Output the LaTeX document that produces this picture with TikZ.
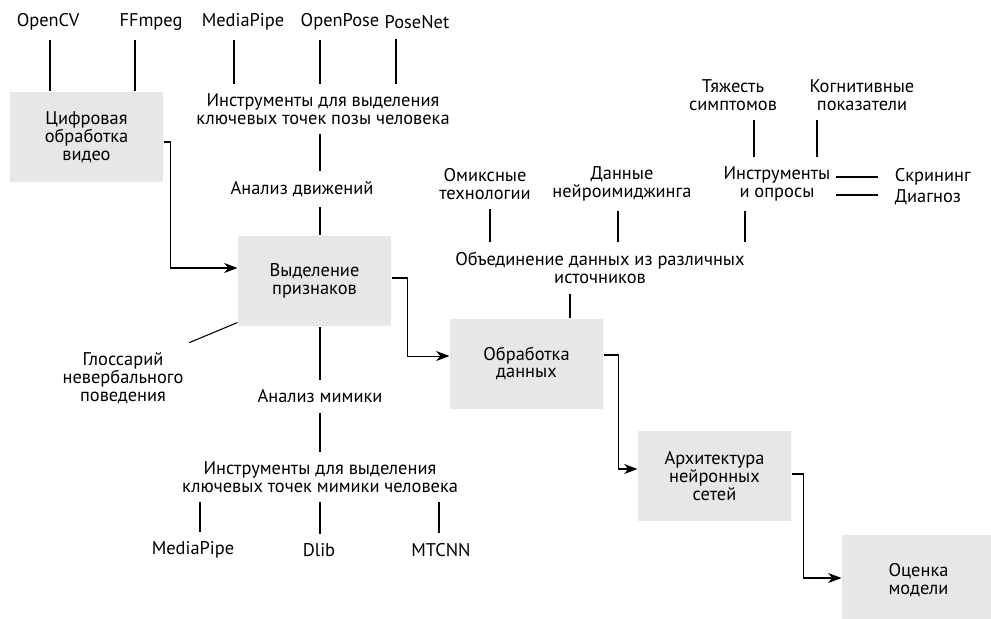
\documentclass[tikz,border=0pt]{standalone}
\usepackage{fontspec}
\setmainfont{PT Sans}
\usetikzlibrary{arrows.meta}
\definecolor{boxgray}{RGB}{230,231,232}

\begin{document}
\begin{tikzpicture}[x=0.75pt, y=-0.75pt, line width=0.8pt,
        every node/.style={align=center, inner xsep=4pt, inner ysep=7pt, font=\fontsize{13.8}{13.4}\selectfont},
        box/.style={fill=boxgray, inner sep=0pt, minimum width=114.75pt, minimum height=67.5pt},
        arr/.style={-{Stealth[length=10pt, width=7.5pt, inset=3pt]}}]
    \useasboundingbox (0,0) rectangle (991,618);

    \node[box] (video) at (86.5,137) {Цифровая \\ обработка \\ видео};
    \node[box] (feat) at (314.5,281) {Выделение \\ признаков};
    \node[box] (proc) at (526.5,363.5) {Обработка \\ данных};
    \node[box] (arch) at (714.5,476) {Архитектура \\ нейронных \\ сетей};
    \node[box] (eval) at (918.5,580) {Оценка \\ модели};

    \node (opencv) at (48,22) {OpenCV};
    \node (ffmpeg) at (151,22) {FFmpeg};
    \node (mpipe) at (243,22) {MediaPipe};
    \node (openpose) at (340,22) {OpenPose};
    \node (posenet) at (417,22) {PoseNet};
    \node (posetools) at (323,109) {Инструменты для выделения \\ ключевых точек позы человека};
    \node (motion) at (302,189) {Анализ движений};
    \node (gloss) at (123,378) {Глоссарий \\ невербального \\ поведения};
    \node (mimic) at (320,396) {Анализ мимики};
    \node (facetools) at (320,477) {Инструменты для выделения \\ ключевых точек мимики человека};
    \node (mpipeface) at (193,550) {MediaPipe};
    \node (dlib) at (319,550) {Dlib};
    \node (mtcnn) at (441,550) {MTCNN};

    \node (omics) at (485,184) {Омиксные \\ технологии};
    \node (neuro) at (622,184) {Данные \\ нейроимиджинга};
    \node (survey) at (777,184) {Инструменты \\ и опросы};
    \node (fusion) at (600,268) {Объединение данных из различных \\ источников};
    \node (severity) at (733,95) {Тяжесть \\ симптомов};
    \node (cogn) at (862,95) {Когнитивные \\ показатели};
    \node[anchor=west] (screening) at (889,177) {Скрининг};
    \node[anchor=west] (diagnosis) at (889,197) {Диагноз};

    \foreach \n/\dx in {opencv/2, ffmpeg/-16}
        \draw (\n.south) ++(\dx,0) coordinate (t) -- (t |- video.north);
    \foreach \n/\dx in {mpipe/-9, openpose/-20, posenet/-21}
        \draw (\n.south) ++(\dx,0) coordinate (t) -- (t |- posetools.north);
    \draw (posetools.south) ++(-3,0) coordinate (t) -- (t |- motion.north);
    \draw (motion.south) ++(18,0) coordinate (t) -- (t |- feat.north);
    \draw (feat.south) ++(5.5,0) coordinate (t) -- (t |- mimic.north);
    \draw (mimic.south) -- (facetools.north);
    \foreach \n/\dx in {mpipeface/7, dlib/1, mtcnn/-2}
        \draw (\n.north) ++(\dx,0) coordinate (t) -- (t |- facetools.south);
    \draw ([yshift=3pt]feat.south west) -- (gloss.north east);

    \foreach \n/\dx in {omics/5, neuro/-4, survey/-32}
        \draw (\n.south) ++(\dx,0) coordinate (t) -- (t |- fusion.north);
    \draw (fusion.south) ++(-30,0) coordinate (t) -- (t |- proc.north);
    \foreach \n/\dx in {severity/21, cogn/-45}
        \draw (\n.south) ++(\dx,0) coordinate (t) -- (t |- survey.north);
    \draw[shorten <=8pt] (screening.west) -- (screening.west -| survey.east);
    \draw[shorten <=8pt] ([yshift=1.5pt]diagnosis.west) -- ([yshift=1.5pt]diagnosis.west -| survey.east);

    \draw[arr] ([yshift=-3.75pt]video.east) -- ++(7,0) |- ([yshift=9.75pt]feat.west);
    \draw[arr] ([yshift=2.25pt]feat.east) -- ++(16,0) |- ([yshift=5.6pt]proc.west);
    \draw[arr] ([yshift=6.4pt]proc.east) -- ++(15,0) |- ([yshift=5.25pt]arch.west);
    \draw[arr] ([yshift=1.5pt]arch.east) -- ++(12,0) |- ([yshift=1.5pt]eval.west);
\end{tikzpicture}
\end{document}
